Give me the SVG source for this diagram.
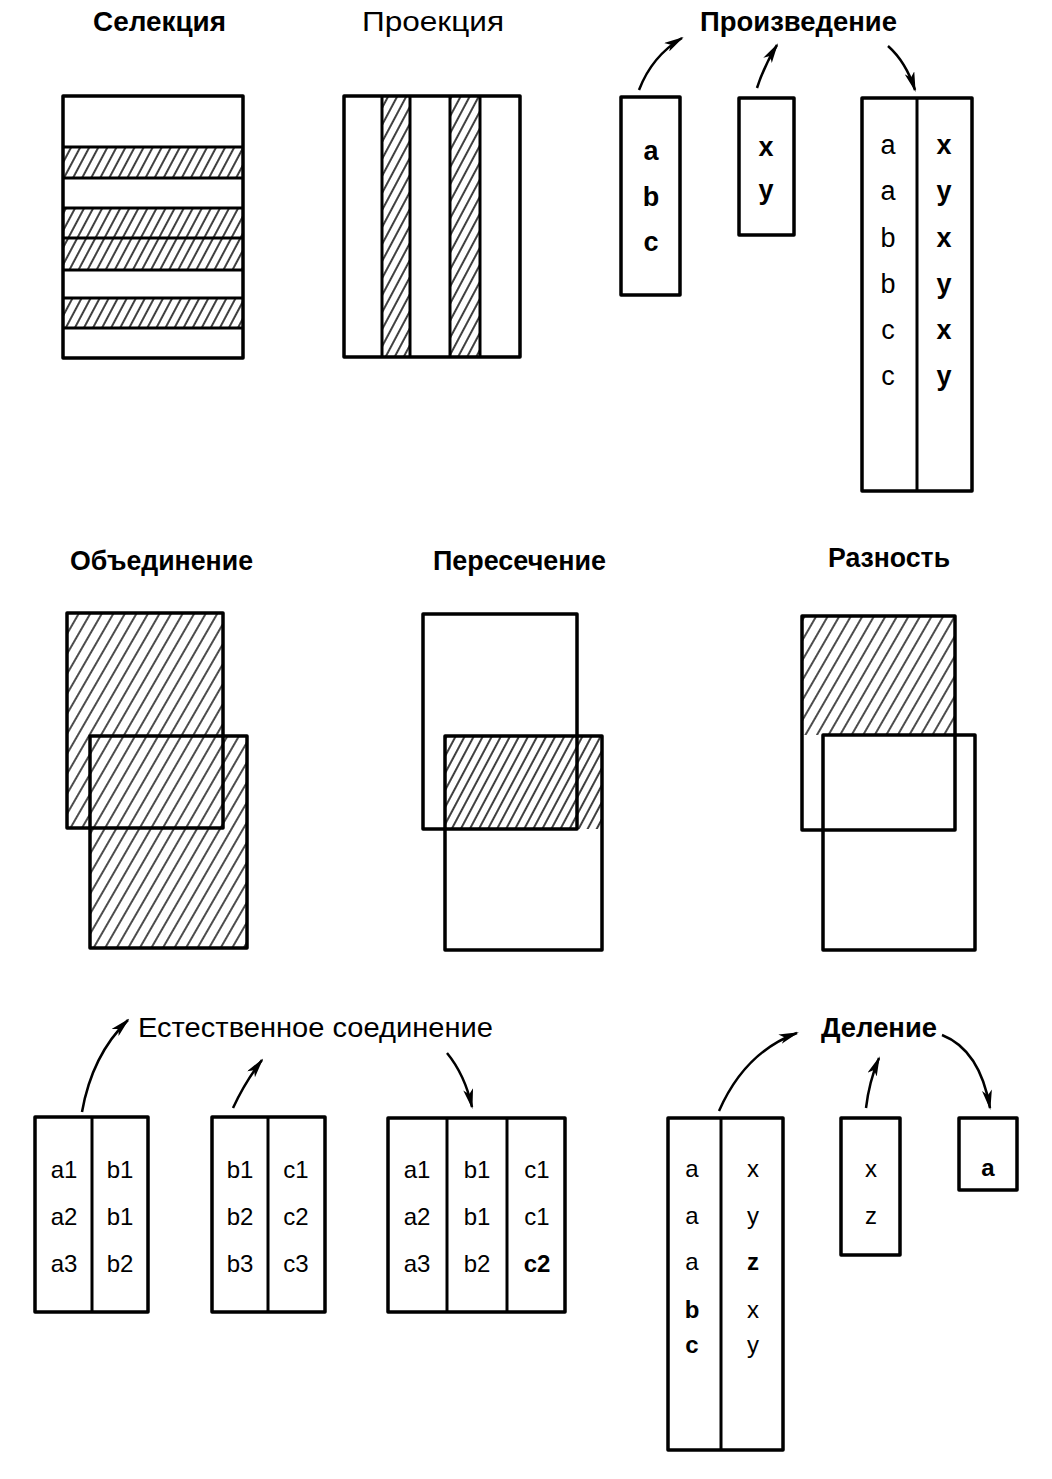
<svg xmlns="http://www.w3.org/2000/svg" width="1052" height="1479" viewBox="0 0 1052 1479">
<defs>
<style>
.box{fill:none;stroke:#000;stroke-width:3.5;stroke-linejoin:round}
.div{stroke:#000;stroke-width:3}
.t{font-family:"Liberation Sans",Arial,sans-serif;fill:#000}
.tb{font-family:"Liberation Sans",Arial,sans-serif;font-weight:bold;fill:#000}
.c{font-family:"Liberation Sans",Arial,sans-serif;fill:#000;text-anchor:middle}
.cb{font-family:"Liberation Sans",Arial,sans-serif;font-weight:bold;fill:#000;text-anchor:middle}
.arr{fill:none;stroke:#000;stroke-width:2.5;marker-end:url(#ah)}
</style>
<pattern id="h" width="8" height="8" patternUnits="userSpaceOnUse" patternTransform="rotate(28)"><line x1="4" y1="-1" x2="4" y2="9" stroke="#000" stroke-width="1.5"/></pattern>
<pattern id="h2" width="10" height="10" patternUnits="userSpaceOnUse" patternTransform="rotate(30)"><line x1="5" y1="-1" x2="5" y2="11" stroke="#000" stroke-width="1.4"/></pattern>
<marker id="ah" markerWidth="20" markerHeight="10" refX="18" refY="5" orient="auto" markerUnits="userSpaceOnUse"><path d="M0,0 L20,5 L0,10 L5,5 Z" fill="#000"/></marker>
</defs>
<rect width="1052" height="1479" fill="#fff"/>

<g id="titles">
<text class="tb" x="93" y="31" font-size="27" textLength="133" lengthAdjust="spacingAndGlyphs">Селекция</text>
<text class="t" x="362" y="31" font-size="27" textLength="142" lengthAdjust="spacingAndGlyphs">Проекция</text>
<text class="tb" x="700" y="31" font-size="27" textLength="197" lengthAdjust="spacingAndGlyphs">Произведение</text>
<text class="tb" x="70" y="570" font-size="27" textLength="183" lengthAdjust="spacingAndGlyphs">Объединение</text>
<text class="tb" x="433" y="570" font-size="27" textLength="173" lengthAdjust="spacingAndGlyphs">Пересечение</text>
<text class="tb" x="828" y="567" font-size="27" textLength="122" lengthAdjust="spacingAndGlyphs">Разность</text>
<text class="t" x="138" y="1037" font-size="27" textLength="355" lengthAdjust="spacingAndGlyphs">Естественное соединение</text>
<text class="tb" x="821" y="1037" font-size="27" textLength="116" lengthAdjust="spacingAndGlyphs">Деление</text>
</g>

<g id="selection">
<rect x="63" y="147" width="180" height="31" fill="url(#h)"/>
<rect x="63" y="208" width="180" height="62" fill="url(#h)"/>
<rect x="63" y="298" width="180" height="30" fill="url(#h)"/>
<line class="div" x1="63" y1="147" x2="243" y2="147"/>
<line class="div" x1="63" y1="178" x2="243" y2="178"/>
<line class="div" x1="63" y1="208" x2="243" y2="208"/>
<line class="div" x1="63" y1="238" x2="243" y2="238"/>
<line class="div" x1="63" y1="270" x2="243" y2="270"/>
<line class="div" x1="63" y1="298" x2="243" y2="298"/>
<line class="div" x1="63" y1="328" x2="243" y2="328"/>
<rect class="box" x="63" y="96" width="180" height="262"/>
</g>

<g id="projection">
<rect x="382" y="96" width="28" height="261" fill="url(#h)"/>
<rect x="450" y="96" width="30" height="261" fill="url(#h)"/>
<line class="div" x1="382" y1="96" x2="382" y2="357"/>
<line class="div" x1="410" y1="96" x2="410" y2="357"/>
<line class="div" x1="450" y1="96" x2="450" y2="357"/>
<line class="div" x1="480" y1="96" x2="480" y2="357"/>
<rect class="box" x="344" y="96" width="176" height="261"/>
</g>

<g id="product-r1">
<rect class="box" x="621" y="97" width="59" height="198"/>
<text class="cb" x="651" y="160" font-size="27">a</text>
<text class="cb" x="651" y="206" font-size="27">b</text>
<text class="cb" x="651" y="251" font-size="27">c</text>
</g>
<g id="product-r2">
<rect class="box" x="739" y="98" width="55" height="137"/>
<text class="cb" x="766" y="156" font-size="27">x</text>
<text class="cb" x="766" y="199" font-size="27">y</text>
</g>
<g id="product-result">
<rect class="box" x="862" y="98" width="110" height="393"/>
<line class="div" x1="917" y1="98" x2="917" y2="491"/>
<text class="c" x="888" y="154" font-size="27">a</text>
<text class="c" x="888" y="200" font-size="27">a</text>
<text class="c" x="888" y="247" font-size="27">b</text>
<text class="c" x="888" y="293" font-size="27">b</text>
<text class="c" x="888" y="339" font-size="27">c</text>
<text class="c" x="888" y="385" font-size="27">c</text>
<text class="cb" x="944" y="154" font-size="27">x</text>
<text class="cb" x="944" y="200" font-size="27">y</text>
<text class="cb" x="944" y="247" font-size="27">x</text>
<text class="cb" x="944" y="293" font-size="27">y</text>
<text class="cb" x="944" y="339" font-size="27">x</text>
<text class="cb" x="944" y="385" font-size="27">y</text>
</g>

<g id="union">
<path d="M67,613 H223 V736 H247 V948 H90 V828 H67 Z" fill="url(#h2)"/>
<rect class="box" x="67" y="613" width="156" height="215"/>
<rect class="box" x="90" y="736" width="157" height="212"/>
</g>

<g id="intersection">
<rect x="445" y="736" width="157" height="93" fill="url(#h)"/>
<rect class="box" x="423" y="614" width="154" height="215"/>
<rect class="box" x="445" y="736" width="157" height="214"/>
</g>

<g id="difference">
<rect x="802" y="616" width="153" height="119" fill="url(#h2)"/>
<rect class="box" x="802" y="616" width="153" height="214"/>
<rect class="box" x="823" y="735" width="152" height="215"/>
</g>

<g id="join-r1">
<rect class="box" x="35" y="1117" width="113" height="195"/>
<line class="div" x1="92" y1="1117" x2="92" y2="1312"/>
<text class="c" x="64" y="1178" font-size="24">a1</text>
<text class="c" x="64" y="1225" font-size="24">a2</text>
<text class="c" x="64" y="1272" font-size="24">a3</text>
<text class="c" x="120" y="1178" font-size="24">b1</text>
<text class="c" x="120" y="1225" font-size="24">b1</text>
<text class="c" x="120" y="1272" font-size="24">b2</text>
</g>
<g id="join-r2">
<rect class="box" x="212" y="1117" width="113" height="195"/>
<line class="div" x1="268" y1="1117" x2="268" y2="1312"/>
<text class="c" x="240" y="1178" font-size="24">b1</text>
<text class="c" x="240" y="1225" font-size="24">b2</text>
<text class="c" x="240" y="1272" font-size="24">b3</text>
<text class="c" x="296" y="1178" font-size="24">c1</text>
<text class="c" x="296" y="1225" font-size="24">c2</text>
<text class="c" x="296" y="1272" font-size="24">c3</text>
</g>
<g id="join-result">
<rect class="box" x="388" y="1118" width="177" height="194"/>
<line class="div" x1="447" y1="1118" x2="447" y2="1312"/>
<line class="div" x1="507" y1="1118" x2="507" y2="1312"/>
<text class="c" x="417" y="1178" font-size="24">a1</text>
<text class="c" x="417" y="1225" font-size="24">a2</text>
<text class="c" x="417" y="1272" font-size="24">a3</text>
<text class="c" x="477" y="1178" font-size="24">b1</text>
<text class="c" x="477" y="1225" font-size="24">b1</text>
<text class="c" x="477" y="1272" font-size="24">b2</text>
<text class="c" x="537" y="1178" font-size="24">c1</text>
<text class="c" x="537" y="1225" font-size="24">c1</text>
<text class="cb" x="537" y="1272" font-size="24">c2</text>
</g>

<g id="division-r1">
<rect class="box" x="668" y="1118" width="115" height="332"/>
<line class="div" x1="721" y1="1118" x2="721" y2="1450"/>
<text class="c" x="692" y="1177" font-size="24">a</text>
<text class="c" x="692" y="1224" font-size="24">a</text>
<text class="c" x="692" y="1270" font-size="24">a</text>
<text class="cb" x="692" y="1318" font-size="24">b</text>
<text class="cb" x="692" y="1353" font-size="24">c</text>
<text class="c" x="753" y="1177" font-size="24">x</text>
<text class="c" x="753" y="1224" font-size="24">y</text>
<text class="cb" x="753" y="1270" font-size="24">z</text>
<text class="c" x="753" y="1318" font-size="24">x</text>
<text class="c" x="753" y="1353" font-size="24">y</text>
</g>
<g id="division-r2">
<rect class="box" x="841" y="1118" width="59" height="137"/>
<text class="c" x="871" y="1177" font-size="24">x</text>
<text class="c" x="871" y="1224" font-size="24">z</text>
</g>
<g id="division-result">
<rect class="box" x="959" y="1118" width="58" height="72"/>
<text class="cb" x="988" y="1176" font-size="24">a</text>
</g>

<g id="connectors">
<path class="arr" d="M639,90 Q652,56 682,38"/>
<path class="arr" d="M757,88 Q764,66 777,45"/>
<path class="arr" d="M888,46 Q906,62 915,90"/>
<path class="arr" d="M82,1112 Q92,1055 128,1020"/>
<path class="arr" d="M233,1108 Q245,1082 262,1060"/>
<path class="arr" d="M447,1053 Q465,1075 472,1107"/>
<path class="arr" d="M719,1111 Q745,1052 797,1033"/>
<path class="arr" d="M866,1108 Q869,1082 879,1058"/>
<path class="arr" d="M942,1035 Q980,1050 990,1108"/>
</g>
</svg>
